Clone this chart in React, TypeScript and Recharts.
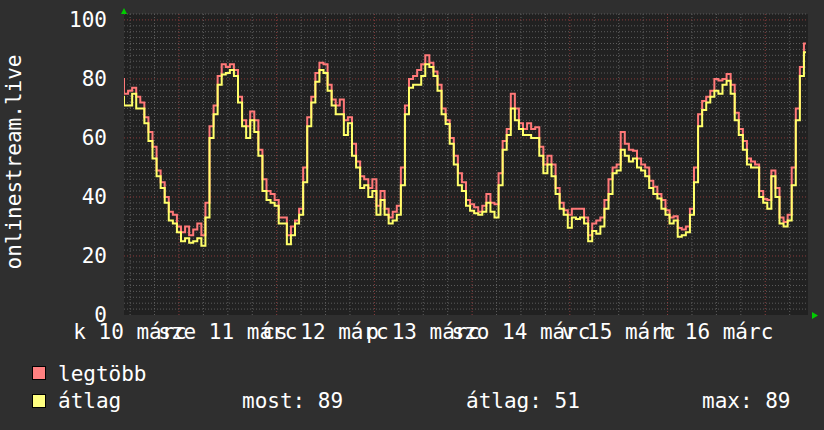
import { LineChart, Line, XAxis, YAxis, CartesianGrid } from 'recharts';

// one value per hour, hour 10 = Mar 10 10:00
const startHour = 10;

const avgViewers = [
  74, 71, 71, 75, 70, 70, 65, 59, 53, 47, 43, 38, 32, 31, 28, 25, 26, 24.5, 25, 26,
  23.5, 33, 60, 68, 78, 81.5, 82, 83, 81, 72, 64, 60, 66, 62, 54, 42, 39, 38, 37, 31,
  31, 24, 27, 31, 34, 45, 64, 72, 79, 83, 82, 76, 71, 68, 68, 61, 65, 54, 50, 43,
  44, 40, 42, 34, 39, 34, 31, 32, 34, 44, 68, 77, 78, 78, 81, 85, 84, 81, 76, 68,
  64.7, 58, 51, 44, 42, 37, 35.3, 34.5, 34, 35, 38, 35, 33, 44, 56, 61, 70, 66, 63, 61,
  61, 60, 60, 54, 48, 51, 47, 41, 36, 34, 29.6, 33, 32.5, 33, 31, 25, 28.5, 27.5, 30, 36,
  41, 48, 49, 56, 54, 52, 53, 50, 49, 47, 43, 41, 39.5, 36, 34, 31, 32, 26.5, 27, 28,
  34, 45, 64, 69.5, 72, 74, 76, 75, 78, 79.4, 75, 66, 61, 56, 51, 50, 50, 40, 38, 36,
  47, 40, 31, 30, 32, 44, 66, 81, 89,
];

const maxViewers = [
  80, 75, 76, 77, 74, 72, 67, 62, 57, 49, 45, 40, 35, 34, 30, 28, 30, 27, 29, 31,
  27, 38, 64, 71, 81, 85, 84, 85, 83, 74, 66, 64, 69, 66, 56, 46, 42, 41, 39, 33,
  33, 27, 30, 32, 36, 50, 67, 74, 82, 85.5, 85, 78, 73, 71, 73, 66, 67, 58, 52, 47,
  46, 43, 46, 37, 42, 36, 33, 35, 37, 50, 71, 80, 81, 83, 85, 88, 85.5, 82.5, 78, 70,
  66, 60, 54, 48, 45, 39, 37.5, 36.5, 35, 37, 41, 38, 37.5, 48, 59, 63, 75, 70, 65, 63,
  65, 63, 63.6, 57, 51, 54, 51, 43, 38, 35.5, 34, 36, 36, 36, 33, 27, 31, 32, 33, 39,
  46, 50, 51, 62, 58, 56, 55.7, 53, 51, 50, 45.5, 43.5, 41, 39, 35.5, 33, 33.5, 29.5, 29, 30,
  36, 50, 68, 72.5, 74, 76, 80, 79.5, 80, 81.7, 78, 68.5, 63, 59, 53, 52, 51, 42, 39.3, 39,
  49, 43, 33, 31.5, 34, 50, 70, 84, 92,
];

const dayTicks = [12, 36, 60, 84, 108, 132, 156];
const dayLabels = ['k 10 márc', 'sze 11 márc', 'cs 12 márc', 'p 13 márc', 'szo 14 márc', 'v 15 márc', 'h 16 márc'];
const yTicks = [0, 20, 40, 60, 80, 100];

const minorY = [
  2, 4, 6, 8, 10, 12, 14, 16, 18, 22, 24, 26, 28, 30, 32, 34, 36, 38, 42, 44, 46, 48, 50,
  52, 54, 56, 58, 62, 64, 66, 68, 70, 72, 74, 76, 78, 82, 84, 86, 88, 90, 92, 94, 96, 98, 102,
];
const majorY = [20, 40, 60, 80, 100];
const minorX = [12, 18, 30, 36, 42, 54, 60, 66, 78, 84, 90, 102, 108, 114, 126, 132, 138, 150, 156, 162, 174];
const majorX = [24, 48, 72, 96, 120, 144, 168];

const seriesNames = ['legtöbb', 'átlag'];
const statLabels = ['most: 89', 'átlag: 51', 'max: 89'];

const data = avgViewers.map((avg, i) => ({ h: startHour + i, avg, max: maxViewers[i] }));

const font = "'DejaVu Sans Mono', monospace";
const tickStyle = { fill: '#ffffff', fontSize: 21, fontFamily: font };

export default function App() {
  return (
    <div style={{ position: 'absolute', left: 0, top: 0, width: 824, height: 430, background: '#2f2f2f', fontFamily: font, color: '#fff' }}>
      <LineChart width={824} height={430} data={data} margin={{ top: 14, right: 16, left: 0, bottom: 85 }}>
        <CartesianGrid
          fill="#212121"
          stroke="#5c5c5c"
          strokeDasharray="1 2"
          horizontalValues={minorY}
          verticalValues={minorX}
        />
        <CartesianGrid
          fill="none"
          stroke="#8a3c3c"
          strokeDasharray="1 2"
          horizontalValues={majorY}
          verticalValues={majorX}
        />
        <XAxis
          type="number"
          dataKey="h"
          domain={[10.5, 178.5]}
          allowDataOverflow
          ticks={dayTicks}
          interval={0}
          tickFormatter={(v) => dayLabels[dayTicks.indexOf(v)]}
          tick={tickStyle}
          tickLine={false}
          axisLine={false}
          tickSize={0}
          tickMargin={9}
          height={30}
        />
        <YAxis
          type="number"
          domain={[0, 102]}
          allowDataOverflow
          ticks={yTicks}
          interval={0}
          tick={tickStyle}
          tickLine={false}
          axisLine={false}
          tickSize={0}
          tickMargin={17}
          width={124}
        />
        <Line type="step" dataKey="max" stroke="#ff7878" strokeWidth={2} dot={false} isAnimationActive={false} />
        <Line type="step" dataKey="avg" stroke="#ffff6a" strokeWidth={2} dot={false} isAnimationActive={false} />
      </LineChart>

      {/* axis arrows */}
      <svg style={{ position: 'absolute', left: 0, top: 0 }} width={824} height={430}>
        <polygon points="121,14 127,14 124,8" fill="#00cc00" />
        <polygon points="812,312 812,319 818,315.5" fill="#00cc00" />
      </svg>

      <div style={{ position: 'absolute', left: 14, top: 162, transform: 'translate(-50%, -50%) rotate(-90deg)', fontSize: 21, whiteSpace: 'nowrap' }}>
        onlinestream.live
      </div>

      {/* legend */}
      <div style={{ position: 'absolute', left: 32, top: 366, width: 14, height: 14, background: '#ff8080', border: '1px solid #000', boxSizing: 'border-box' }} />
      <div style={{ position: 'absolute', left: 32, top: 394, width: 14, height: 14, background: '#ffff80', border: '1px solid #000', boxSizing: 'border-box' }} />
      <div style={{ position: 'absolute', left: 58, top: 362, fontSize: 21, lineHeight: '24px' }}>{seriesNames[0]}</div>
      <div style={{ position: 'absolute', left: 58, top: 389, fontSize: 21, lineHeight: '24px' }}>{seriesNames[1]}</div>
      <div style={{ position: 'absolute', left: 242, top: 389, fontSize: 21, lineHeight: '24px' }}>{statLabels[0]}</div>
      <div style={{ position: 'absolute', left: 466, top: 389, fontSize: 21, lineHeight: '24px' }}>{statLabels[1]}</div>
      <div style={{ position: 'absolute', left: 702, top: 389, fontSize: 21, lineHeight: '24px' }}>{statLabels[2]}</div>
    </div>
  );
}
